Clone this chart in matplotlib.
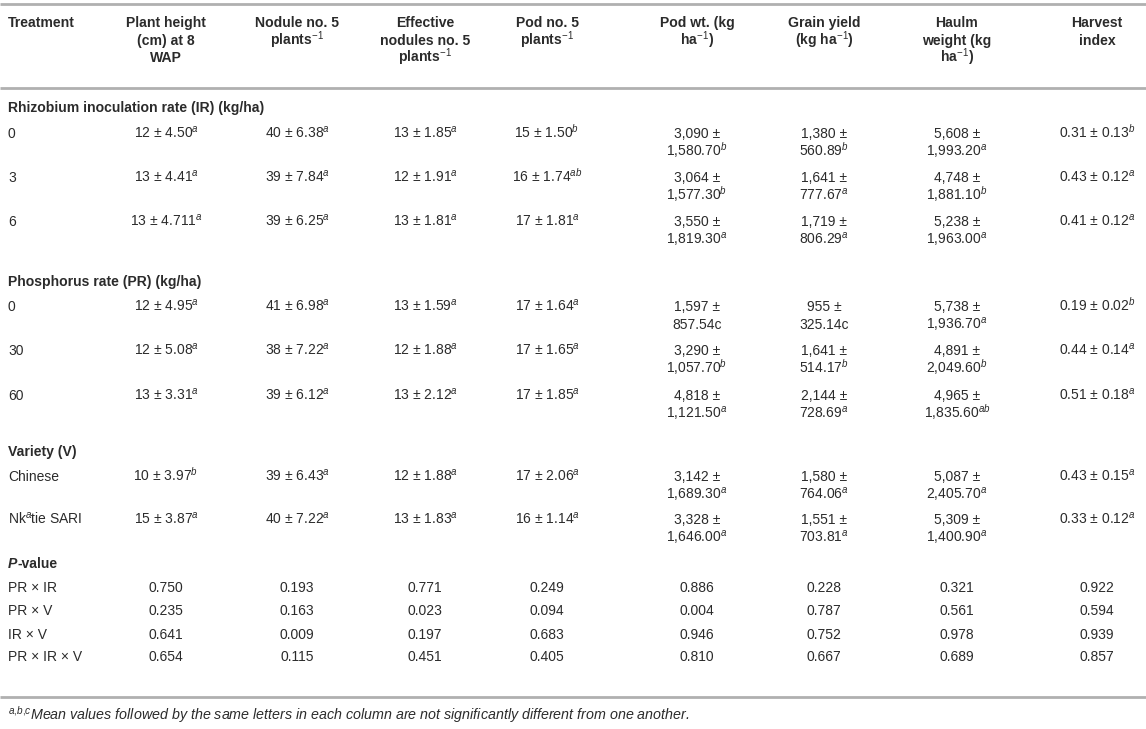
import matplotlib
matplotlib.use("Agg")
from matplotlib import pyplot as plt

plt.rcParams["font.family"] = "Liberation Sans"
plt.rcParams["mathtext.fontset"] = "custom"
plt.rcParams["mathtext.rm"] = "Liberation Sans"
plt.rcParams["mathtext.it"] = "Liberation Sans:italic"
plt.rcParams["mathtext.bf"] = "Liberation Sans:bold"

# Table content

headers = [
    "Treatment",
    "Plant height\n(cm) at 8\nWAP",
    "Nodule no. 5\nplants$^{-1}$",
    "Effective\nnodules no. 5\nplants$^{-1}$",
    "Pod no. 5\nplants$^{-1}$",
    "Pod wt. (kg\nha$^{-1}$)",
    "Grain yield\n(kg ha$^{-1}$)",
    "Haulm\nweight (kg\nha$^{-1}$)",
    "Harvest\nindex",
]

ir_title = "Rhizobium inoculation rate (IR) (kg/ha)"
ir_rows = [
    ["0", "12 ± 4.50$^{a}$", "40 ± 6.38$^{a}$", "13 ± 1.85$^{a}$", "15 ± 1.50$^{b}$",
     "3,090 ±\n1,580.70$^{b}$", "1,380 ±\n560.89$^{b}$", "5,608 ±\n1,993.20$^{a}$", "0.31 ± 0.13$^{b}$"],
    ["3", "13 ± 4.41$^{a}$", "39 ± 7.84$^{a}$", "12 ± 1.91$^{a}$", "16 ± 1.74$^{ab}$",
     "3,064 ±\n1,577.30$^{b}$", "1,641 ±\n777.67$^{a}$", "4,748 ±\n1,881.10$^{b}$", "0.43 ± 0.12$^{a}$"],
    ["6", "13 ± 4.711$^{a}$", "39 ± 6.25$^{a}$", "13 ± 1.81$^{a}$", "17 ± 1.81$^{a}$",
     "3,550 ±\n1,819.30$^{a}$", "1,719 ±\n806.29$^{a}$", "5,238 ±\n1,963.00$^{a}$", "0.41 ± 0.12$^{a}$"],
]

pr_title = "Phosphorus rate (PR) (kg/ha)"
pr_rows = [
    ["0", "12 ± 4.95$^{a}$", "41 ± 6.98$^{a}$", "13 ± 1.59$^{a}$", "17 ± 1.64$^{a}$",
     "1,597 ±\n857.54c", "955 ±\n325.14c", "5,738 ±\n1,936.70$^{a}$", "0.19 ± 0.02$^{b}$"],
    ["30", "12 ± 5.08$^{a}$", "38 ± 7.22$^{a}$", "12 ± 1.88$^{a}$", "17 ± 1.65$^{a}$",
     "3,290 ±\n1,057.70$^{b}$", "1,641 ±\n514.17$^{b}$", "4,891 ±\n2,049.60$^{b}$", "0.44 ± 0.14$^{a}$"],
    ["60", "13 ± 3.31$^{a}$", "39 ± 6.12$^{a}$", "13 ± 2.12$^{a}$", "17 ± 1.85$^{a}$",
     "4,818 ±\n1,121.50$^{a}$", "2,144 ±\n728.69$^{a}$", "4,965 ±\n1,835.60$^{ab}$", "0.51 ± 0.18$^{a}$"],
]

var_title = "Variety (V)"
var_rows = [
    ["Chinese", "10 ± 3.97$^{b}$", "39 ± 6.43$^{a}$", "12 ± 1.88$^{a}$", "17 ± 2.06$^{a}$",
     "3,142 ±\n1,689.30$^{a}$", "1,580 ±\n764.06$^{a}$", "5,087 ±\n2,405.70$^{a}$", "0.43 ± 0.15$^{a}$"],
    ["Nk$^{a}$tie SARI", "15 ± 3.87$^{a}$", "40 ± 7.22$^{a}$", "13 ± 1.83$^{a}$", "16 ± 1.14$^{a}$",
     "3,328 ±\n1,646.00$^{a}$", "1,551 ±\n703.81$^{a}$", "5,309 ±\n1,400.90$^{a}$", "0.33 ± 0.12$^{a}$"],
]

p_rows = [
    ["PR × IR", "0.750", "0.193", "0.771", "0.249", "0.886", "0.228", "0.321", "0.922"],
    ["PR × V", "0.235", "0.163", "0.023", "0.094", "0.004", "0.787", "0.561", "0.594"],
    ["IR × V", "0.641", "0.009", "0.197", "0.683", "0.946", "0.752", "0.978", "0.939"],
    ["PR × IR × V", "0.654", "0.115", "0.451", "0.405", "0.810", "0.667", "0.689", "0.857"],
]

footnote = "$^{a{,}b{,}c}$Mean values followed by the same letters in each column are not significantly different from one another."

# Layout (pixel coords)
W, H = 1146, 729
col_x = [8, 166, 297, 425, 547, 697, 824, 957, 1097]
FS = 10.0
FS_BOLD = 10.1
LINE = 17.5
TXT = "#2b2b2b"
RULE = "#b0b0b0"

fig = plt.figure(figsize=(W / 100, H / 100), dpi=100)
ax = fig.add_axes([0, 0, 1, 1])
ax.set_xlim(0, W)
ax.set_ylim(H, 0)
ax.axis("off")


def cell(x, y, s, ha="center", fs=FS, **kw):
    for i, line in enumerate(s.split("\n")):
        ax.text(x, y + 5 + i * LINE, line, ha=ha, va="baseline",
                fontsize=fs, color=TXT, **kw)


def row(y, values):
    cell(col_x[0], y, values[0], ha="left")
    for x, v in zip(col_x[1:], values[1:]):
        cell(x, y, v)


# rules
for y in [4, 88, 697]:
    ax.plot([0, W], [y, y], color=RULE, lw=2, solid_capstyle="butt")

# header
cell(col_x[0], 22, headers[0], ha="left", fs=FS_BOLD, fontweight="bold")
for x, h in zip(col_x[1:], headers[1:]):
    cell(x, 22, h, fs=FS_BOLD, fontweight="bold")

# sections
cell(col_x[0], 107, ir_title, ha="left", fs=FS_BOLD, fontweight="bold")
for y, r in zip([133, 177, 221], ir_rows):
    row(y, r)

cell(col_x[0], 281, pr_title, ha="left", fs=FS_BOLD, fontweight="bold")
for y, r in zip([306, 350, 395], pr_rows):
    row(y, r)

cell(col_x[0], 451, var_title, ha="left", fs=FS_BOLD, fontweight="bold")
for y, r in zip([476, 519], var_rows):
    row(y, r)

t = ax.text(col_x[0], 568, "P", ha="left", va="baseline", fontsize=FS_BOLD,
            color=TXT, fontweight="bold", fontstyle="italic")
ax.annotate("-value", xy=(1, 0), xycoords=t, ha="left", va="bottom",
            fontsize=FS_BOLD, color=TXT, fontweight="bold")
for y, r in zip([587, 610, 634, 656], p_rows):
    row(y, r)

ax.text(col_x[0], 720, footnote, ha="left", va="baseline", fontsize=10.3,
        color=TXT, fontstyle="italic")

fig.savefig("out.png", dpi=100)
